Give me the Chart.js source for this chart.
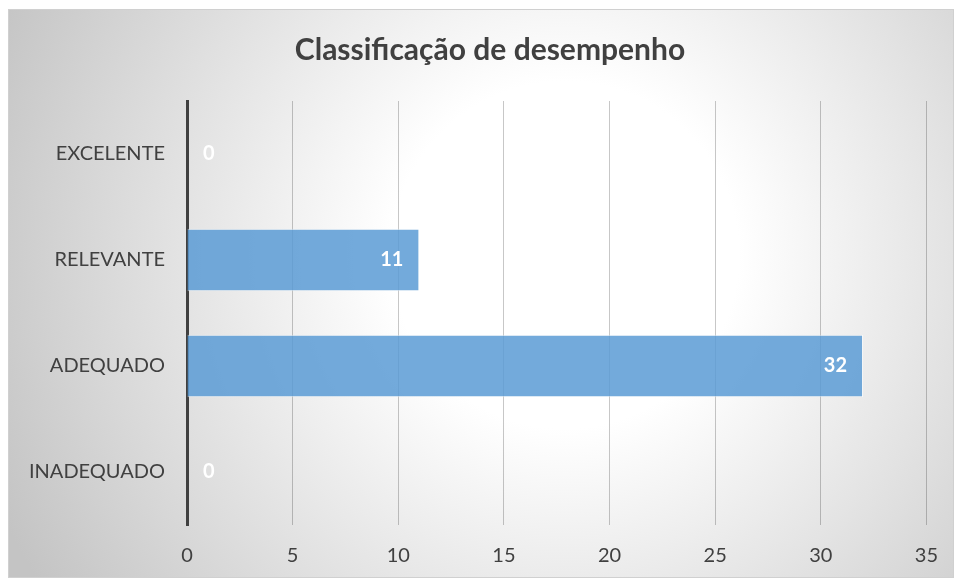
<!DOCTYPE html>
<html>
<head>
<meta charset="utf-8">
<script src="https://cdn.jsdelivr.net/npm/chart.js@4.4.0/dist/chart.umd.min.js"></script>
<style>
html,body{margin:0;padding:0;background:#fff;}
#wrap{position:relative;width:957px;height:579px;}
</style>
</head>
<body>
<div id="wrap"><canvas id="c" width="957" height="579"></canvas></div>
<script>
const categories = ["EXCELENTE", "RELEVANTE", "ADEQUADO", "INADEQUADO"];
const values = [0, 11, 32, 0];
const xTicks = [0, 5, 10, 15, 20, 25, 30, 35];
const titleText = "Classificação de desempenho";
const FONT = "Lato, 'Open Sans', sans-serif";

const bgPlugin = {
  id: 'bg',
  beforeDraw(chart) {
    const ctx = chart.ctx;
    ctx.save();
    ctx.fillStyle = '#ffffff';
    ctx.fillRect(0, 0, chart.width, chart.height);
    const x0 = 8, y0 = 9, w = 946, h = 569;
    const g = ctx.createRadialGradient(565, 255, 0, 565, 255, 620);
    g.addColorStop(0, '#ffffff');
    g.addColorStop(0.28, '#ffffff');
    g.addColorStop(1, '#c4c4c4');
    ctx.fillStyle = g;
    ctx.fillRect(x0, y0, w, h);
    ctx.strokeStyle = '#d0d0d0';
    ctx.lineWidth = 1;
    ctx.strokeRect(x0 + 0.5, y0 + 0.5, w - 1, h - 1);
    // title
    ctx.font = "bold 30px " + FONT;
    ctx.fillStyle = '#404040';
    ctx.textAlign = 'center';
    ctx.textBaseline = 'middle';
    ctx.fillText(titleText, 490, 50);
    ctx.restore();
  }
};

const labelPlugin = {
  id: 'lbl',
  afterDatasetsDraw(chart) {
    const ctx = chart.ctx;
    const meta = chart.getDatasetMeta(0);
    ctx.save();
    ctx.font = "bold 20px " + FONT;
    ctx.fillStyle = '#ffffff';
    ctx.textBaseline = 'middle';
    meta.data.forEach((bar, i) => {
      const v = values[i];
      if (v > 0) {
        ctx.textAlign = 'right';
        ctx.fillText(String(v), bar.x - 16, bar.y);
      } else {
        ctx.textAlign = 'left';
        ctx.fillText(String(v), bar.base + 16, bar.y);
      }
    });
    ctx.restore();
  }
};

new Chart(document.getElementById('c'), {
  type: 'bar',
  data: {
    labels: categories,
    datasets: [{
      data: values,
      backgroundColor: 'rgba(91,155,213,0.85)',
      borderColor: 'rgba(255,255,255,0.6)',
      borderWidth: 1,
      borderSkipped: 'start',
      barPercentage: 0.59,
      categoryPercentage: 1.0
    }]
  },
  options: {
    indexAxis: 'y',
    responsive: false,
    animation: false,
    devicePixelRatio: 1,
    layout: { padding: { left: 0, right: 28, top: 101, bottom: 0 } },
    plugins: {
      legend: { display: false },
      tooltip: { enabled: false },
      title: { display: false }
    },
    scales: {
      x: {
        min: 0, max: 35,
        afterBuildTicks(scale) { scale.ticks = xTicks.map(v => ({ value: v })); },
        afterFit(scale) { scale.height = 54; },
        grid: { color: 'rgba(0,0,0,0.22)', lineWidth: 1, drawTicks: false },
        border: { display: false },
        ticks: { color: '#404040', font: { family: FONT, size: 20 }, padding: 19 }
      },
      y: {
        afterFit(scale) { scale.width = 187; },
        grid: { display: false, drawTicks: false },
        border: { display: true, color: '#404040', width: 3 },
        ticks: { color: '#404040', font: { family: FONT, size: 20 }, padding: 22 }
      }
    }
  },
  plugins: [bgPlugin, labelPlugin]
});
</script>
</body>
</html>
